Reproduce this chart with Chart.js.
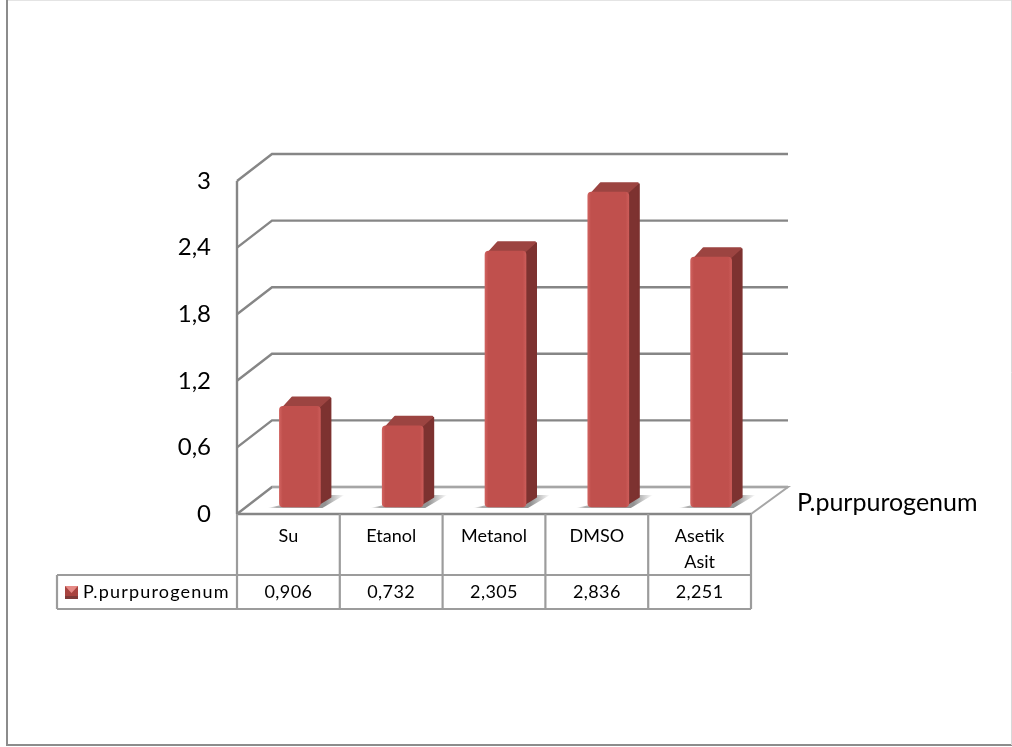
<!DOCTYPE html>
<html>
<head>
<meta charset="utf-8">
<title>P.purpurogenum</title>
<script src="https://cdn.jsdelivr.net/npm/chart.js@4"></script>
<style>
html, body { margin: 0; padding: 0; background: #fff; }
#wrap { position: absolute; left: 0; top: 0; width: 1012px; height: 747px; }
</style>
</head>
<body>
<div id="wrap"><canvas id="graphique" width="1012" height="747"></canvas></div>
<script>
const categories = ["Su", "Etanol", "Metanol", "DMSO", ["Asetik", "Asit"]];
const seriesName = "P.purpurogenum";
const seriesValues = [0.906, 0.732, 2.305, 2.836, 2.251];
const tableValues = ["0,906", "0,732", "2,305", "2,836", "2,251"];
const tickLabels = ["0", "0,6", "1,2", "1,8", "2,4", "3"];

const police = "Lato, 'Open Sans', sans-serif";
const gris = "#868686";
const grisTable = "#9c9c9c";
const murX = 35, murY = -27;   // decalage du fond par rapport a la face avant
const barX = 11.5, barY = -7;  // position des barres sur le sol
const profX = 11, profY = -10; // profondeur des barres

function ligne(ctx, pts, couleur, epaisseur) {
    ctx.beginPath();
    ctx.moveTo(pts[0][0], pts[0][1]);
    pts.slice(1).forEach(p => ctx.lineTo(p[0], p[1]));
    ctx.strokeStyle = couleur;
    ctx.lineWidth = epaisseur;
    ctx.stroke();
}

function poly(ctx, pts, remplissage) {
    ctx.beginPath();
    ctx.moveTo(pts[0][0], pts[0][1]);
    pts.slice(1).forEach(p => ctx.lineTo(p[0], p[1]));
    ctx.closePath();
    ctx.fillStyle = remplissage;
    ctx.fill();
    ctx.strokeStyle = remplissage;
    ctx.lineWidth = 2;
    ctx.lineJoin = "round";
    ctx.stroke();
}

// Cadre, murs et tableau de donnees
const fond = {
    id: "fond",
    beforeDatasetsDraw(chart) {
        const ctx = chart.ctx, x = chart.scales.x, y = chart.scales.y;
        const g = x.left, d = x.right, b = y.bottom;
        ctx.save();
        ligne(ctx, [[7, 0], [7, 745], [1012, 745]], "#8c8c8c", 2);
        ligne(ctx, [[8, 0.5], [1012, 0.5]], "#e4e4e4", 1);
        ligne(ctx, [[1011.5, 0], [1011.5, 745]], "#d8d8d8", 1);

        // lignes de grille sur le mur gauche et le fond
        y.ticks.forEach(t => {
            const py = y.getPixelForValue(t.value);
            ligne(ctx, [[g, py], [g + murX, py + murY], [d + murX + 2, py + murY]], gris, 2.4);
        });
        ligne(ctx, [[g, y.top], [g, b]], gris, 2.4);
        ligne(ctx, [[g + murX, b + murY], [d + murX + 2, b + murY], [d, b], [g, b]], "#a6a6a6", 2);
        ligne(ctx, [[g, b], [d, b]], gris, 2.6);

        // tableau
        const colonnes = categories.map((c, i) => i === 0 ? g : (x.getPixelForValue(i) + x.getPixelForValue(i - 1)) / 2);
        colonnes.push(d);
        ligne(ctx, [[57, 575], [d, 575]], grisTable, 2.2);
        ligne(ctx, [[57, 609], [d, 609]], grisTable, 2.2);
        ligne(ctx, [[57, 575], [57, 609]], grisTable, 2.2);
        colonnes.forEach(cx => ligne(ctx, [[cx, b], [cx, 609]], grisTable, 2.2));

        // cle de legende
        ctx.fillStyle = "#a8433f";
        ctx.fillRect(65, 586, 13, 13);
        ctx.fillStyle = "#7d3a38";
        ctx.fillRect(65, 596, 13, 3);
        ctx.beginPath();
        ctx.moveTo(65, 586);
        ctx.lineTo(78, 586);
        ctx.lineTo(71.5, 593);
        ctx.closePath();
        ctx.fillStyle = "#e58985";
        ctx.fill();

        ctx.fillStyle = "#000";
        ctx.textBaseline = "middle";
        ctx.textAlign = "left";
        ctx.font = "18px " + police;
        ctx.letterSpacing = "1.2px";
        ctx.fillText(seriesName, 83, 592);
        ctx.textAlign = "center";
        ctx.letterSpacing = "0.4px";
        tableValues.forEach((v, i) => ctx.fillText(v, x.getPixelForValue(i), 592));

        ctx.textAlign = "left";
        ctx.letterSpacing = "0px";
        ctx.font = "25px " + police;
        ctx.fillText(seriesName, 797, 503);

        // ombre au sol, cotes et dessus des barres
        chart.getDatasetMeta(0).data.forEach(el => {
            const x1 = el.x - el.width / 2 + barX, x2 = el.x + el.width / 2 + barX;
            const haut = el.y + barY, base = el.base + barY;
            const om = ctx.createLinearGradient(x1 - 12, 0, x2 + 24, 0);
            om.addColorStop(0, "rgba(110,110,110,0)");
            om.addColorStop(0.12, "rgba(110,110,110,0.55)");
            om.addColorStop(0.75, "rgba(110,110,110,0.75)");
            om.addColorStop(1, "rgba(110,110,110,0)");
            ctx.beginPath();
            ctx.moveTo(x1 - 12, base + 1);
            ctx.lineTo(x2 + 2, base + 1);
            ctx.lineTo(x2 + 24, base - 12);
            ctx.lineTo(x2 + 8, base - 12);
            ctx.closePath();
            ctx.fillStyle = om;
            ctx.fill();

            poly(ctx, [[x2 - 3, haut + 3], [x2 + profX - 1, haut + profY + 2], [x2 + profX - 1, base + profY], [x2 - 3, base - 2]], "#7d3230");
            poly(ctx, [[x1 + 3, haut + 2], [x1 + profX + 2, haut + profY + 1], [x2 + profX - 2, haut + profY + 1], [x2 - 3, haut + 2]], "#9c4441");
        });
        ctx.restore();

        // les barres passent par l'element de la librairie, decalees sur le sol
        ctx.save();
        ctx.translate(barX, barY);
    },
    afterDatasetsDraw(chart) {
        chart.ctx.restore();
    }
};

const canvas = document.getElementById("graphique");
canvas.getContext("2d").letterSpacing = "0.9px";

new Chart(canvas, {
    type: "bar",
    data: {
        labels: categories,
        datasets: [{
            label: seriesName,
            data: seriesValues,
            clip: false,
            barThickness: 41,
            borderRadius: 4,
            borderSkipped: false,
            backgroundColor(c) {
                const px = c.chart.scales.x.getPixelForValue(c.dataIndex);
                if (!Number.isFinite(px)) return "#c0504d";
                const dg = c.chart.ctx.createLinearGradient(px - 20.5, 0, px + 20.5, 0);
                dg.addColorStop(0, "#d0625f");
                dg.addColorStop(0.08, "#c0504d");
                dg.addColorStop(0.92, "#c0504d");
                dg.addColorStop(1, "#cc5c59");
                return dg;
            }
        }]
    },
    options: {
        responsive: false,
        animation: false,
        events: [],
        layout: { padding: { left: 0, right: 261, top: 181, bottom: 0 } },
        plugins: { legend: { display: false }, tooltip: { enabled: false } },
        scales: {
            x: {
                afterFit(s) { s.height = 233; },
                grid: { display: false, drawTicks: false },
                border: { display: false },
                ticks: {
                    color: "#000",
                    font: { family: police, size: 18, lineHeight: "26px" },
                    padding: 9,
                    maxRotation: 0,
                    autoSkip: false
                }
            },
            y: {
                min: 0,
                max: 3,
                afterFit(s) { s.width = 237; },
                grid: { display: false, drawTicks: false },
                border: { display: false },
                ticks: {
                    stepSize: 0.6,
                    color: "#000",
                    font: { family: police, size: 24 },
                    padding: 26,
                    callback: (v, i) => tickLabels[i]
                }
            }
        }
    },
    plugins: [fond]
});
</script>
</body>
</html>
